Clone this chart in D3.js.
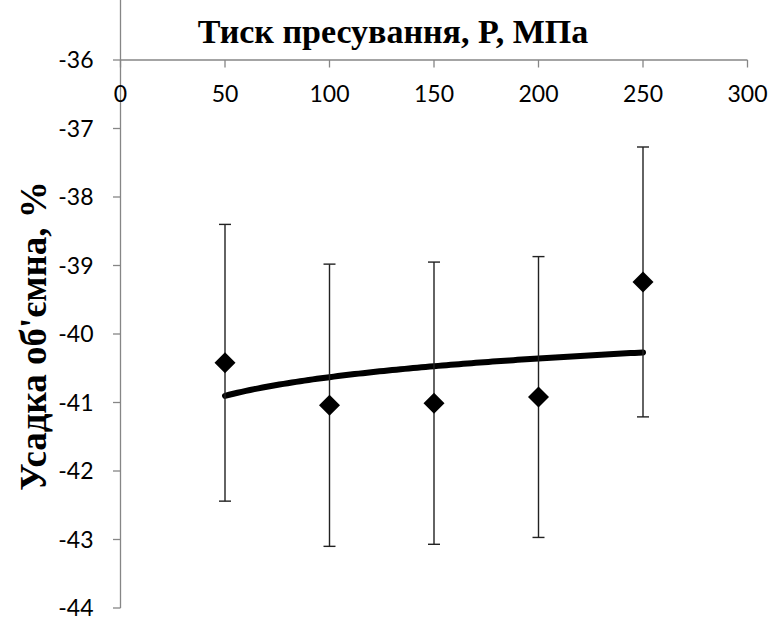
<!DOCTYPE html>
<html>
<head>
<meta charset="utf-8">
<script src="https://cdn.jsdelivr.net/npm/d3@7"></script>
<style>
  body { margin: 0; background: #fff; }
  svg { display: block; }
  .tick-label { font-family: Lato, "Open Sans", sans-serif; font-size: 23px; fill: #000; }
  .title { font-family: "Liberation Serif", "Times New Roman", serif; font-weight: bold; font-size: 34px; fill: #000; }
  .ytitle { font-family: "Liberation Serif", "Times New Roman", serif; font-weight: bold; font-size: 37px; fill: #000; }
</style>
</head>
<body>
<div id="chart"></div>
<script>
// pressure values, MPa
const pressure = [50, 100, 150, 200, 250];
// volumetric shrinkage, %
const shrinkage = [-40.42, -41.04, -41.01, -40.92, -39.24];
// error bar half-size
const errors = [2.02, 2.06, 2.06, 2.05, 1.97];
const xTicks = [0, 50, 100, 150, 200, 250, 300];
const yTicks = [-44, -43, -42, -41, -40, -39, -38, -37, -36, -35];

const width = 772, height = 620;
const svg = d3.select('#chart').append('svg')
  .attr('width', width)
  .attr('height', height);

const x = d3.scaleLinear().domain([0, 300]).range([120.5, 747.5]);
const y = d3.scaleLinear().domain([-44, -35]).range([608, -8.5]);
const axisColor = '#868686';

// y axis (vertical line at x = 0)
const yAxis = svg.append('g').attr('transform', `translate(${x(0)},0)`);
yAxis.append('line')
  .attr('y1', y(-35)).attr('y2', y(-44))
  .attr('stroke', axisColor).attr('stroke-width', 1.3);
yAxis.selectAll('.yt').data(yTicks).enter().append('line')
  .attr('x1', -7.5).attr('x2', 0)
  .attr('y1', d => y(d)).attr('y2', d => y(d))
  .attr('stroke', axisColor).attr('stroke-width', 1.3);
yAxis.selectAll('.yl').data(yTicks).enter().append('text')
  .attr('class', 'tick-label')
  .attr('x', -27).attr('y', d => y(d))
  .attr('dy', '0.35em')
  .attr('text-anchor', 'end')
  .text(d => d);

// x axis crosses at -36
const xAxis = svg.append('g').attr('transform', `translate(0,${y(-36)})`);
xAxis.append('line')
  .attr('x1', x(0)).attr('x2', x(300))
  .attr('stroke', axisColor).attr('stroke-width', 1.3);
xAxis.selectAll('.xt').data(xTicks).enter().append('line')
  .attr('x1', d => x(d)).attr('x2', d => x(d))
  .attr('y1', 0).attr('y2', 7.5)
  .attr('stroke', axisColor).attr('stroke-width', 1.3);
xAxis.selectAll('.xl').data(xTicks).enter().append('text')
  .attr('class', 'tick-label')
  .attr('x', d => x(d)).attr('y', 42)
  .attr('text-anchor', 'middle')
  .text(d => d);

// logarithmic trend line, least squares on ln(P)
const lx = pressure.map(Math.log);
const mx = d3.mean(lx), my = d3.mean(shrinkage);
const slope = d3.sum(lx, (v, i) => (v - mx) * (shrinkage[i] - my)) / d3.sum(lx, v => (v - mx) ** 2);
const icpt = my - slope * mx;
const trendX = d3.range(pressure[0], pressure[pressure.length - 1] + 1, 2);
svg.append('path')
  .datum(trendX)
  .attr('fill', 'none')
  .attr('stroke', '#000')
  .attr('stroke-width', 6)
  .attr('stroke-linecap', 'round')
  .attr('d', d3.line().x(d => x(d)).y(d => y(icpt + slope * Math.log(d))));

// error bars
const bars = svg.selectAll('.err').data(pressure).enter().append('g').attr('class', 'err');
bars.append('line')
  .attr('x1', d => x(d)).attr('x2', d => x(d))
  .attr('y1', (d, i) => y(shrinkage[i] + errors[i]))
  .attr('y2', (d, i) => y(shrinkage[i] - errors[i]))
  .attr('stroke', '#222').attr('stroke-width', 1.4);
[1, -1].forEach(s => {
  bars.append('line')
    .attr('x1', d => x(d) - 6).attr('x2', d => x(d) + 6)
    .attr('y1', (d, i) => y(shrinkage[i] + s * errors[i]))
    .attr('y2', (d, i) => y(shrinkage[i] + s * errors[i]))
    .attr('stroke', '#222').attr('stroke-width', 1.4);
});

// diamond markers
svg.selectAll('.pt').data(pressure).enter().append('path')
  .attr('transform', (d, i) => `translate(${x(d)},${y(shrinkage[i])})`)
  .attr('d', 'M0,-10.5L10.5,0L0,10.5L-10.5,0Z')
  .attr('fill', '#000');

// titles
svg.append('text')
  .attr('class', 'title')
  .attr('x', 393).attr('y', 43)
  .attr('text-anchor', 'middle')
  .text('Тиск пресування, P, МПа');
svg.append('text')
  .attr('class', 'ytitle')
  .attr('transform', 'translate(46,336) rotate(-90)')
  .attr('text-anchor', 'middle')
  .text('Усадка об\'ємна, %');
</script>
</body>
</html>
